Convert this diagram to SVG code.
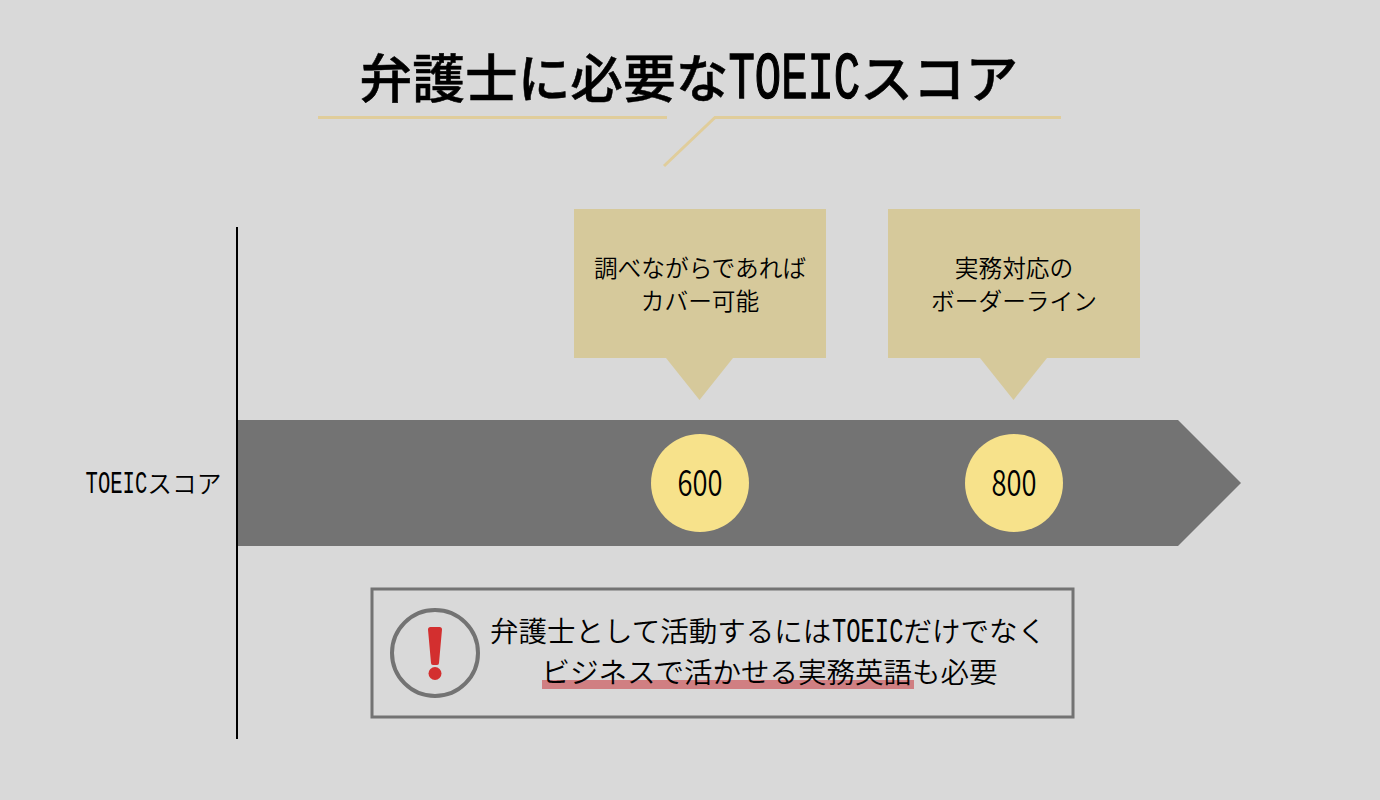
<svg xmlns="http://www.w3.org/2000/svg" width="1380" height="800" viewBox="0 0 1380 800">
<style>
text{font-family:"Noto Sans CJK JP","Noto Sans",sans-serif;fill:#000;font-weight:350}
.mid{text-anchor:middle}
.lat{font-family:"Liberation Mono","Noto Sans Mono CJK JP",monospace;font-weight:400}
.dig{font-weight:350}
.c{font-size:23.700px}
.m{font-size:28.500px}
.gold{fill:#d6c99b}
.y{fill:#f7e28b}
</style>
<rect width="1380" height="800" fill="#d9d9d9"/>
<g id="title">
<text y="97.500" font-size="52.700" style="font-weight:500" stroke="#000" stroke-width="0.500"><tspan x="359.600">弁護士に必要な</tspan><tspan x="728.500" class="lat" font-size="66" stroke-width="1.500" textLength="131.700" lengthAdjust="spacingAndGlyphs">TOEIC</tspan><tspan x="860.200">スコア</tspan></text>
<path d="M318 117.500H667M664 166L715 117.500H1061" fill="none" stroke="#e0cd9b" stroke-width="3"/>
</g>
<g id="connectors">
<path d="M237 227V739" stroke="#000" stroke-width="2" fill="none"/>
</g>
<g id="axis-label"><text y="492.500" font-size="24.700"><tspan x="85.600" class="lat" font-size="31" textLength="61.700" lengthAdjust="spacingAndGlyphs">TOEIC</tspan><tspan x="147.300">スコア</tspan></text></g>
<g id="arrow"><path d="M238 420H1178L1241 483L1178 546H238Z" fill="#737373"/></g>
<g id="callout-600">
<path class="gold" d="M574 209H826V358H733L699.500 400L666 358H574Z"/>
<text class="c mid" x="700" y="277">調べながらであれば</text>
<text class="c mid" x="700" y="310">カバー可能</text>
</g>
<g id="callout-800">
<path class="gold" d="M888 209H1140V358H1047L1013.500 400L980 358H888Z"/>
<text class="c mid" x="1014" y="277">実務対応の</text>
<text class="c mid" x="1014" y="310">ボーダーライン</text>
</g>
<g id="node-600"><circle class="y" cx="700" cy="483" r="49"/><text class="dig" x="677.500" y="496" font-size="36" textLength="45" lengthAdjust="spacingAndGlyphs">600</text></g>
<g id="node-800"><circle class="y" cx="1014" cy="483" r="49"/><text class="dig" x="991.500" y="496" font-size="36" textLength="45" lengthAdjust="spacingAndGlyphs">800</text></g>
<g id="note">
<rect x="372" y="589" width="701" height="128" fill="none" stroke="#737373" stroke-width="3"/>
<circle cx="435" cy="653" r="43" fill="none" stroke="#737373" stroke-width="4"/>
<path d="M428 629.500Q428 627 430.500 627H439.500Q442 627 442 629.500L439 663Q439 665 437 665H433Q431 665 431 663Z" fill="#d32f2f"/>
<circle cx="435" cy="673.500" r="6.500" fill="#d32f2f"/>
<rect x="542" y="680" width="372" height="9" fill="#d07f82"/>
<text class="m" y="642"><tspan x="490.100">弁護士として活動するには</tspan><tspan x="832.100" class="lat" font-size="35" textLength="71.300" lengthAdjust="spacingAndGlyphs">TOEIC</tspan><tspan x="903.400">だけでなく</tspan></text>
<text class="m mid" x="769.500" y="683">ビジネスで活かせる実務英語も必要</text>
</g>
</svg>
